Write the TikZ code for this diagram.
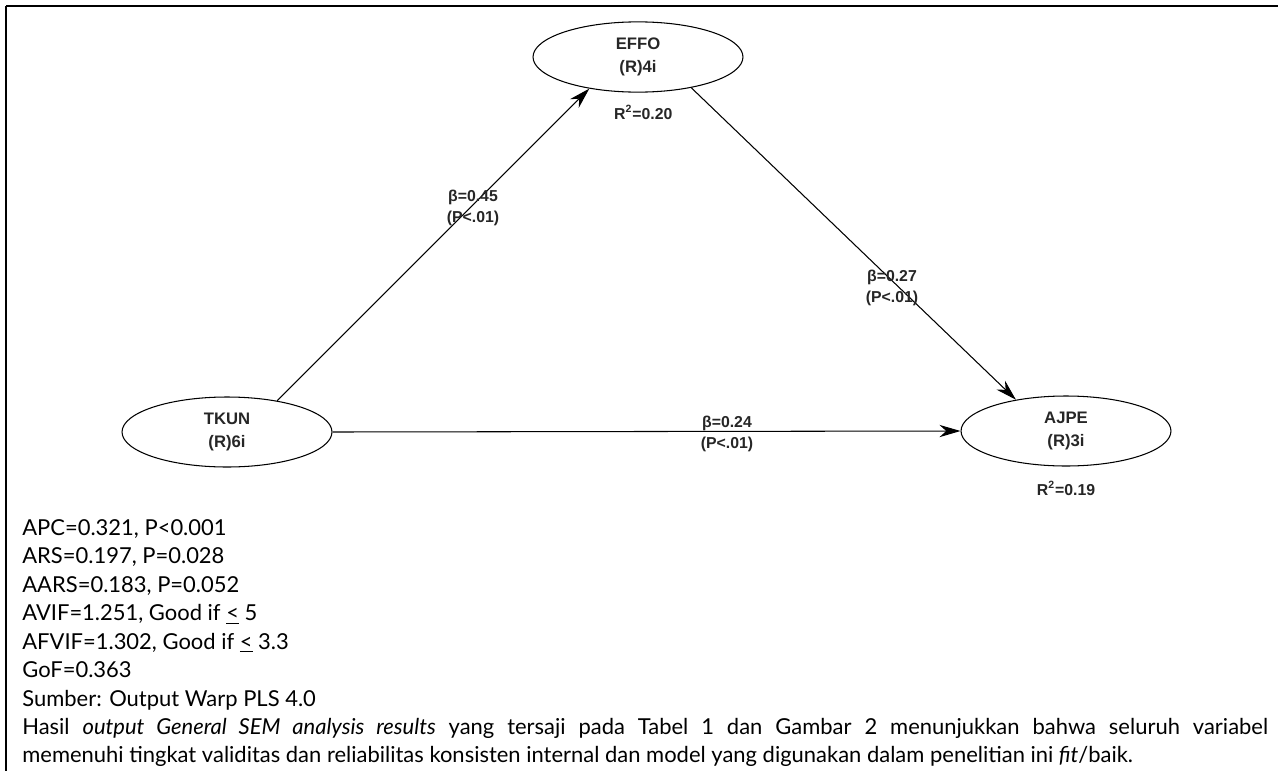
\documentclass[tikz,border=0pt]{standalone}
\usepackage{fontspec}
\setmainfont{Lato}
\newfontfamily\diagfont{Liberation Sans}
\usetikzlibrary{arrows.meta}
\usetikzlibrary{shapes.geometric}
\usetikzlibrary{positioning}
\tikzset{
latent/.style={
	ellipse,
	draw=black,
	line width=0.6pt,
	minimum width=4.2cm,
	minimum height=1.4cm,
	align=center,
	text=black!85,
	font=\diagfont\bfseries\fontsize{9.5}{13}\selectfont
},
coef/.style={
	align=center,
	inner sep=1pt,
	text=black!85,
	font=\diagfont\bfseries\fontsize{9}{11.5}\selectfont
},
rsq/.style={
	inner sep=1pt,
	text=black!85,
	font=\diagfont\bfseries\fontsize{9}{11.5}\selectfont
},
arrow/.style={
	-{Stealth[length=12pt,width=7pt]},
	line width=0.6pt
}
}

\begin{document}
\begin{tikzpicture}[x=0.02cm, y=-0.02cm]
\useasboundingbox (0,0) rectangle (1278,771);

% frame
\draw[line width=0.9pt] (6,6) -- (1278,6);
\draw[line width=0.9pt] (6,6) -- (6,771);

\node (effo) [latent] at (638,57)  {EFFO\\(R)4i};
\node (tkun) [latent] at (227,432) {TKUN\\(R)6i};
\node (ajpe) [latent] at (1066,431) {AJPE\\(R)3i};

\node (r2effo) [rsq, below=6pt of effo, xshift=3pt] {R\textsuperscript{2}=0.20};
\node (r2ajpe) [rsq, below=7pt of ajpe] {R\textsuperscript{2}=0.19};

% paths
\draw[arrow] (tkun.32)  -- (effo.213);
\draw[arrow] (effo.330) -- (ajpe.148);
\draw[arrow] (tkun.east) -- (ajpe.west);

\node (b1) [coef] at (473,208) {β=0.45\\(P<.01)};
\node (b2) [coef] at (892,288) {β=0.27\\(P<.01)};
\node (b3) [coef] at (727,434) {β=0.24\\(P<.01)};

% fit indices and note
\node (notes) [anchor=north west, inner sep=0pt, text width=24.92cm, align=justify,
  font=\fontsize{12.5}{16.2}\selectfont] at (22,519) {%
  APC=0.321, P<0.001\\
  ARS=0.197, P=0.028\\
  AARS=0.183, P=0.052\\
  AVIF=1.251, Good if \underline{<} 5\\
  AFVIF=1.302, Good if \underline{<} 3.3\\
  GoF=0.363\\
  Sumber: Output Warp PLS 4.0\\
  Hasil \textit{output General SEM analysis results} yang tersaji pada Tabel 1 dan Gambar 2 menunjukkan bahwa seluruh variabel\linebreak
  memenuhi tingkat validitas dan reliabilitas konsisten internal dan model yang digunakan dalam penelitian ini \textit{fit}/baik.};

\end{tikzpicture}
\end{document}
